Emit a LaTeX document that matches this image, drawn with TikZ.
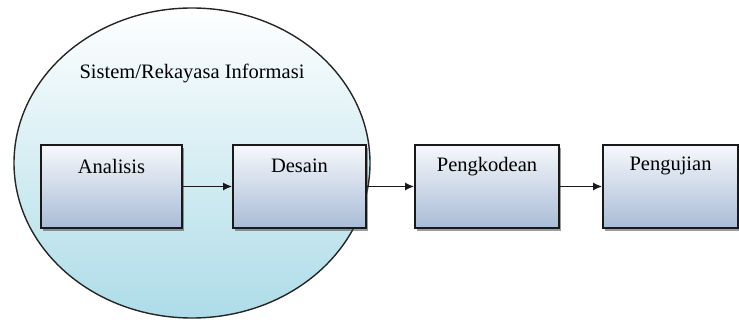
\documentclass[tikz,border=0pt]{standalone}
\usepackage{fontspec}
\setmainfont{Liberation Serif}
\newfontfamily\labelfont{Liberation Serif}
\usetikzlibrary{arrows.meta,shadows,calc}
\definecolor{boxtop}{HTML}{F6F8FC}
\definecolor{boxbot}{HTML}{A9BCD6}
\definecolor{elltop}{HTML}{FFFFFF}
\definecolor{ellbot}{HTML}{ADDCE8}
\tikzset{
  stage/.style={draw=black!90, line width=1.6pt, top color=boxtop, bottom color=boxbot,
    minimum width=#1, minimum height=83pt, inner sep=0pt,
    drop shadow={shadow xshift=2pt, shadow yshift=-3pt, opacity=0.55, fill=black!70}},
  stagetext/.style={font=\labelfont\fontsize{20.5}{23}\selectfont, anchor=center},
  flow/.style={draw=black!90, line width=1.6pt, -{Latex[length=9pt,width=8pt]}},
  region/.style={draw=black!85, line width=1.4pt, top color=elltop, bottom color=ellbot}
}
\begin{document}
\begin{tikzpicture}[x=1pt,y=-1pt]
  \useasboundingbox (0,0) rectangle (739,323);
  % outer region
  \path[region] (192,163) ellipse [x radius=178pt, y radius=155pt];
  \node[stagetext] (title) at (192,73) {Sistem/Rekayasa Informasi};
  % stages
  \node[stage=141pt] (ana) at (111.5,186.5) {};
  \node[stage=133pt] (des) at (299.5,186.5) {};
  \node[stage=144pt] (kod) at (487,186.5) {};
  \node[stage=135pt] (uji) at (670.5,186.5) {};
  \node[stagetext] at ($(ana.north)+(0,22)$) {Analisis};
  \node[stagetext] at ($(des.north)+(0,22)$) {Desain};
  \node[stagetext] at ($(kod.north)+(0,22)$) {Pengkodean};
  \node[stagetext] at ($(uji.north)+(0,22)$) {Pengujian};
  % connectors
  \draw[flow] (ana.east) -- (des.west);
  \draw[flow] (des.east) -- (kod.west);
  \draw[flow] (kod.east) -- (uji.west);
\end{tikzpicture}
\end{document}
